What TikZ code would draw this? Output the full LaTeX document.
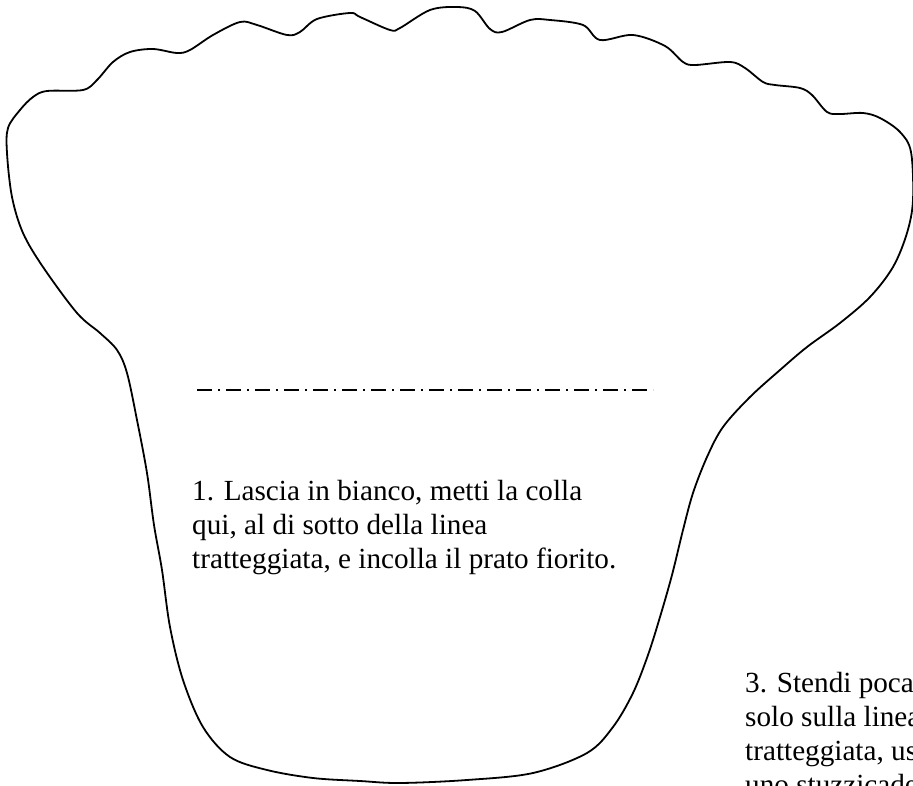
\documentclass[tikz,border=0pt]{standalone}
\usepackage{fontspec}
\setmainfont{Liberation Serif}
\begin{document}
\begin{tikzpicture}[x=1pt,y=-1pt,
  outline/.style={line width=1.8pt, line join=round},
  cutline/.style={line width=1.7pt, dash pattern=on 15pt off 6pt on 2pt off 6pt},
  note/.style={anchor=base west, inner sep=0pt, align=left, font=\fontsize{29.2}{34}\selectfont}]
\useasboundingbox (0,0) rectangle (913,786);
\clip (0,0) rectangle (913,786);
\fill[white] (0,0) rectangle (913,786);
\draw[outline] plot[smooth cycle, tension=0.55] coordinates {
 (8,128) (20,110) (33,97) (47,91) (83,90) (97,80) (113,62) (130,52) (153,49)
 (177,53) (190,50) (213,35) (240,22) (257,25) (287,35) (300,32) (317,19)
 (350,13) (360,17) (390,30) (400,28) (430,10) (457,7) (475,11) (490,29)
 (502,32) (530,20) (550,20) (583,25) (600,40) (633,35) (665,46) (683,62)
 (695,65) (730,62) (745,68) (763,82) (775,85) (800,88) (812,95) (827,112)
 (840,114) (863,113) (880,118) (900,132) (911,152) (913,200) (907,233)
 (893,267) (870,297) (840,323) (807,347) (780,370) (750,397) (723,427)
 (707,457) (693,493) (683,530) (672,575) (660,617) (648,655) (633,693)
 (613,727) (587,753) (533,773) (467,780) (400,783) (360,781) (313,778)
 (267,770) (230,757) (203,727) (183,680) (170,627) (162,570) (154,525)
 (147,473) (137,420) (127,373) (117,350) (100,333) (77,313) (43,267)
 (23,233) (12,197) (7,153)};
\coordinate (cutL) at (197,390);
\coordinate (cutR) at (653,390);
\draw[cutline] (cutL) -- (cutR);
\node[note] (t1) at (192,568) {1. Lascia in bianco, metti la colla\\qui, al di sotto della linea\\tratteggiata, e incolla il prato fiorito.};
\node[note] (t3) at (745,794) {3. Stendi poca\\solo sulla linea\\tratteggiata, us\\uno stuzzicade};
\end{tikzpicture}
\end{document}
